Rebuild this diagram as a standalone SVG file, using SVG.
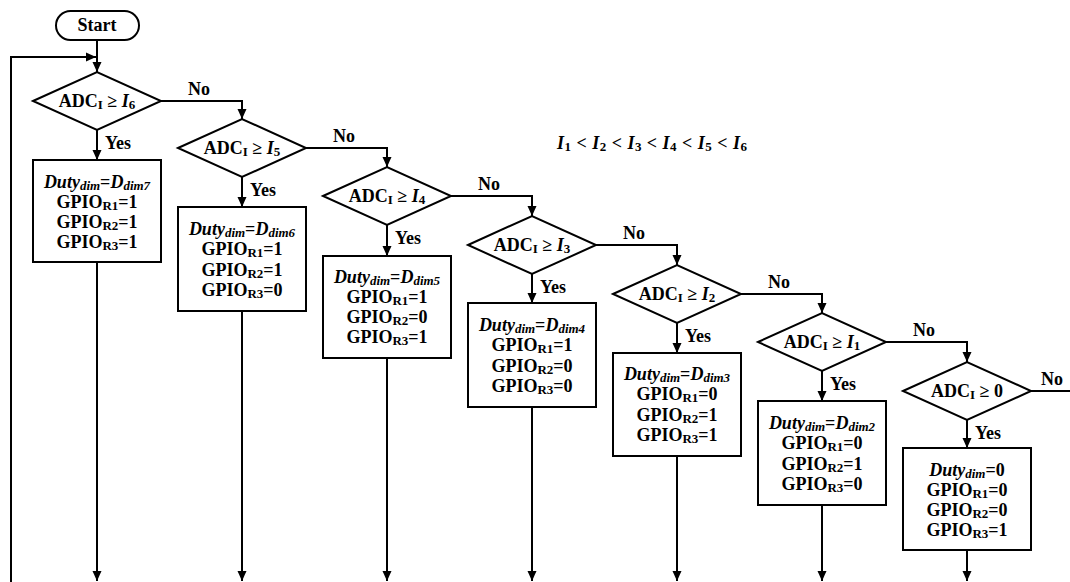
<svg xmlns="http://www.w3.org/2000/svg" width="1070" height="582" viewBox="0 0 1070 582">
<style>
text{font-family:"Liberation Serif","Times New Roman",serif;font-weight:bold;font-size:18px;fill:#000}
.c{text-anchor:middle}
.i{font-style:italic}
.s{font-size:13px}
.sh{fill:#fff;stroke:#000;stroke-width:2}
.ln{fill:none;stroke:#000;stroke-width:2}
</style>
<defs>
<marker id="ah" markerUnits="userSpaceOnUse" markerWidth="10" markerHeight="10" refX="10" refY="5" orient="auto"><path d="M0,0.5 L10,5 L0,9.5 z" fill="#000"/></marker>
</defs>
<g id="connectors" class="ln" marker-end="url(#ah)">
<path d="M97,40 V72"/>
<path d="M11,582 V57 H96"/>
<path d="M97,130 V160"/>
<path d="M242,177 V207"/>
<path d="M387,225 V256"/>
<path d="M532,274 V303"/>
<path d="M677,323 V353"/>
<path d="M822,371 V401"/>
<path d="M967,420 V448"/>
<path d="M161,101 H242 V119"/>
<path d="M306,148 H387 V167"/>
<path d="M451,196 H532 V216"/>
<path d="M596,245 H677 V265"/>
<path d="M741,294 H822 V313"/>
<path d="M886,342 H967 V362"/>
<path d="M1031,391 H1070" marker-end="none"/>
<path d="M97,262 V581"/>
<path d="M242,311 V581"/>
<path d="M387,358 V581"/>
<path d="M532,407 V581"/>
<path d="M677,456 V581"/>
<path d="M822,505 V581"/>
<path d="M967,550 V581"/>
</g>
<g id="start"><rect class="sh" x="56" y="11" width="83" height="29" rx="14.5"/><text class="c" x="97" y="31" font-size="17">Start</text></g>
<g id="d1"><path class="sh" d="M33,101 L97,72 L161,101 L97,130 z"/><text class="c" x="97" y="107">ADC<tspan class="s" dy="2">I</tspan><tspan dy="-2"> ≥ </tspan><tspan class="i">I</tspan><tspan class="s" dy="2">6</tspan></text></g>
<g id="d2"><path class="sh" d="M178,148 L242,119 L306,148 L242,177 z"/><text class="c" x="242" y="154">ADC<tspan class="s" dy="2">I</tspan><tspan dy="-2"> ≥ </tspan><tspan class="i">I</tspan><tspan class="s" dy="2">5</tspan></text></g>
<g id="d3"><path class="sh" d="M323,196 L387,167 L451,196 L387,225 z"/><text class="c" x="387" y="202">ADC<tspan class="s" dy="2">I</tspan><tspan dy="-2"> ≥ </tspan><tspan class="i">I</tspan><tspan class="s" dy="2">4</tspan></text></g>
<g id="d4"><path class="sh" d="M468,245 L532,216 L596,245 L532,274 z"/><text class="c" x="532" y="251">ADC<tspan class="s" dy="2">I</tspan><tspan dy="-2"> ≥ </tspan><tspan class="i">I</tspan><tspan class="s" dy="2">3</tspan></text></g>
<g id="d5"><path class="sh" d="M613,294 L677,265 L741,294 L677,323 z"/><text class="c" x="677" y="300">ADC<tspan class="s" dy="2">I</tspan><tspan dy="-2"> ≥ </tspan><tspan class="i">I</tspan><tspan class="s" dy="2">2</tspan></text></g>
<g id="d6"><path class="sh" d="M758,342 L822,313 L886,342 L822,371 z"/><text class="c" x="822" y="348">ADC<tspan class="s" dy="2">I</tspan><tspan dy="-2"> ≥ </tspan><tspan class="i">I</tspan><tspan class="s" dy="2">1</tspan></text></g>
<g id="d7"><path class="sh" d="M903,391 L967,362 L1031,391 L967,420 z"/><text class="c" x="967" y="397">ADC<tspan class="s" dy="2">I</tspan><tspan dy="-2"> ≥ 0</tspan></text></g>
<g id="labels">
<text x="105" y="149">Yes</text><text x="250" y="196">Yes</text><text x="395" y="244">Yes</text><text x="540" y="293">Yes</text><text x="685" y="342">Yes</text><text x="830" y="390">Yes</text><text x="975" y="439">Yes</text>
<text class="c" x="199" y="95">No</text><text class="c" x="344" y="142">No</text><text class="c" x="489" y="190">No</text><text class="c" x="634" y="239">No</text><text class="c" x="779" y="288">No</text><text class="c" x="924" y="336">No</text><text class="c" x="1052" y="385">No</text>
</g>
<g id="b1"><rect class="sh" x="33" y="160" width="128" height="102"/><text class="c" x="97" y="188"><tspan class="i">Duty</tspan><tspan class="i s" dy="2">dim</tspan><tspan dy="-2">=</tspan><tspan class="i">D</tspan><tspan class="i s" dy="2">dim7</tspan></text><text class="c" x="97" y="208">GPIO<tspan class="s" dy="2">R1</tspan><tspan dy="-2">=1</tspan></text><text class="c" x="97" y="228">GPIO<tspan class="s" dy="2">R2</tspan><tspan dy="-2">=1</tspan></text><text class="c" x="97" y="248">GPIO<tspan class="s" dy="2">R3</tspan><tspan dy="-2">=1</tspan></text></g>
<g id="b2"><rect class="sh" x="178" y="207" width="128" height="104"/><text class="c" x="242" y="235"><tspan class="i">Duty</tspan><tspan class="i s" dy="2">dim</tspan><tspan dy="-2">=</tspan><tspan class="i">D</tspan><tspan class="i s" dy="2">dim6</tspan></text><text class="c" x="242" y="255">GPIO<tspan class="s" dy="2">R1</tspan><tspan dy="-2">=1</tspan></text><text class="c" x="242" y="276">GPIO<tspan class="s" dy="2">R2</tspan><tspan dy="-2">=1</tspan></text><text class="c" x="242" y="296">GPIO<tspan class="s" dy="2">R3</tspan><tspan dy="-2">=0</tspan></text></g>
<g id="b3"><rect class="sh" x="323" y="256" width="128" height="102"/><text class="c" x="387" y="283"><tspan class="i">Duty</tspan><tspan class="i s" dy="2">dim</tspan><tspan dy="-2">=</tspan><tspan class="i">D</tspan><tspan class="i s" dy="2">dim5</tspan></text><text class="c" x="387" y="303">GPIO<tspan class="s" dy="2">R1</tspan><tspan dy="-2">=1</tspan></text><text class="c" x="387" y="323">GPIO<tspan class="s" dy="2">R2</tspan><tspan dy="-2">=0</tspan></text><text class="c" x="387" y="343">GPIO<tspan class="s" dy="2">R3</tspan><tspan dy="-2">=1</tspan></text></g>
<g id="b4"><rect class="sh" x="468" y="303" width="128" height="104"/><text class="c" x="532" y="331"><tspan class="i">Duty</tspan><tspan class="i s" dy="2">dim</tspan><tspan dy="-2">=</tspan><tspan class="i">D</tspan><tspan class="i s" dy="2">dim4</tspan></text><text class="c" x="532" y="351">GPIO<tspan class="s" dy="2">R1</tspan><tspan dy="-2">=1</tspan></text><text class="c" x="532" y="372">GPIO<tspan class="s" dy="2">R2</tspan><tspan dy="-2">=0</tspan></text><text class="c" x="532" y="392">GPIO<tspan class="s" dy="2">R3</tspan><tspan dy="-2">=0</tspan></text></g>
<g id="b5"><rect class="sh" x="613" y="353" width="128" height="103"/><text class="c" x="677" y="380"><tspan class="i">Duty</tspan><tspan class="i s" dy="2">dim</tspan><tspan dy="-2">=</tspan><tspan class="i">D</tspan><tspan class="i s" dy="2">dim3</tspan></text><text class="c" x="677" y="400">GPIO<tspan class="s" dy="2">R1</tspan><tspan dy="-2">=0</tspan></text><text class="c" x="677" y="421">GPIO<tspan class="s" dy="2">R2</tspan><tspan dy="-2">=1</tspan></text><text class="c" x="677" y="441">GPIO<tspan class="s" dy="2">R3</tspan><tspan dy="-2">=1</tspan></text></g>
<g id="b6"><rect class="sh" x="758" y="401" width="128" height="104"/><text class="c" x="822" y="429"><tspan class="i">Duty</tspan><tspan class="i s" dy="2">dim</tspan><tspan dy="-2">=</tspan><tspan class="i">D</tspan><tspan class="i s" dy="2">dim2</tspan></text><text class="c" x="822" y="449">GPIO<tspan class="s" dy="2">R1</tspan><tspan dy="-2">=0</tspan></text><text class="c" x="822" y="470">GPIO<tspan class="s" dy="2">R2</tspan><tspan dy="-2">=1</tspan></text><text class="c" x="822" y="490">GPIO<tspan class="s" dy="2">R3</tspan><tspan dy="-2">=0</tspan></text></g>
<g id="b7"><rect class="sh" x="903" y="448" width="128" height="102"/><text class="c" x="967" y="476"><tspan class="i">Duty</tspan><tspan class="i s" dy="2">dim</tspan><tspan dy="-2">=0</tspan></text><text class="c" x="967" y="496">GPIO<tspan class="s" dy="2">R1</tspan><tspan dy="-2">=0</tspan></text><text class="c" x="967" y="516">GPIO<tspan class="s" dy="2">R2</tspan><tspan dy="-2">=0</tspan></text><text class="c" x="967" y="536">GPIO<tspan class="s" dy="2">R3</tspan><tspan dy="-2">=1</tspan></text></g>
<g id="formula"><text x="557" y="149" textLength="190" lengthAdjust="spacing"><tspan class="i">I</tspan><tspan class="s" dy="2">1</tspan><tspan dy="-2"> &lt; </tspan><tspan class="i">I</tspan><tspan class="s" dy="2">2</tspan><tspan dy="-2"> &lt; </tspan><tspan class="i">I</tspan><tspan class="s" dy="2">3</tspan><tspan dy="-2"> &lt; </tspan><tspan class="i">I</tspan><tspan class="s" dy="2">4</tspan><tspan dy="-2"> &lt; </tspan><tspan class="i">I</tspan><tspan class="s" dy="2">5</tspan><tspan dy="-2"> &lt; </tspan><tspan class="i">I</tspan><tspan class="s" dy="2">6</tspan></text></g>
</svg>
